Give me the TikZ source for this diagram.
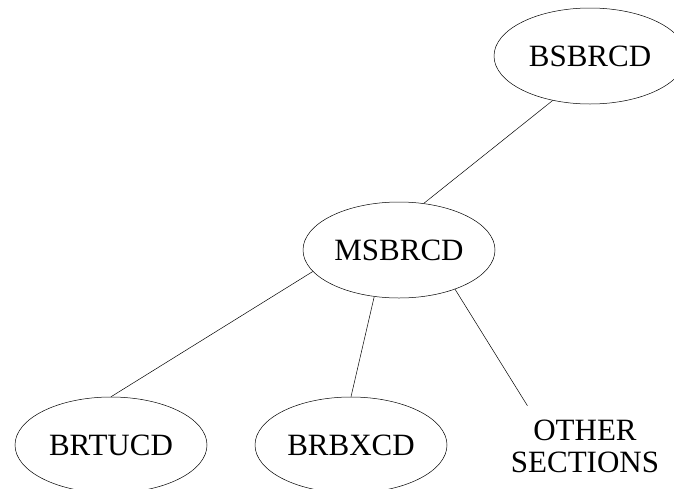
\documentclass[tikz,border=0pt]{standalone}
\usepackage{fontspec}
\setmainfont{Liberation Serif}
\usetikzlibrary{shapes.geometric}
\tikzset{
  secn/.style={ellipse, draw=#1, line width=0.5pt, inner sep=0pt,
               minimum width=192pt, minimum height=96pt, align=center,
               font=\fontsize{31}{32}\selectfont},
  secn/.default=black,
  lien/.style={line width=0.5pt, draw=black},
}
\begin{document}
\begin{tikzpicture}[x=1pt, y=-1pt]
  \clip (0,0) rectangle (674,488);
  \node[secn] (bs) at (590,56) {BSBRCD};
  \node[secn] (ms) at (399,250) {MSBRCD};
  \node[secn] (tu) at (111,445) {BRTUCD};
  \node[secn] (bx) at (351,445) {BRBXCD};
  \node[secn=none] (ot) at (585,446) {OTHER\\SECTIONS};
  % branches
  \draw[lien] (bs.230) -- (ms.62);
  \draw[lien] (ms.194) -- (tu.north);
  \draw[lien] (ms.242) -- (bx.north);
  \draw[lien] (ms.325) -- (ot.145);
\end{tikzpicture}
\end{document}
